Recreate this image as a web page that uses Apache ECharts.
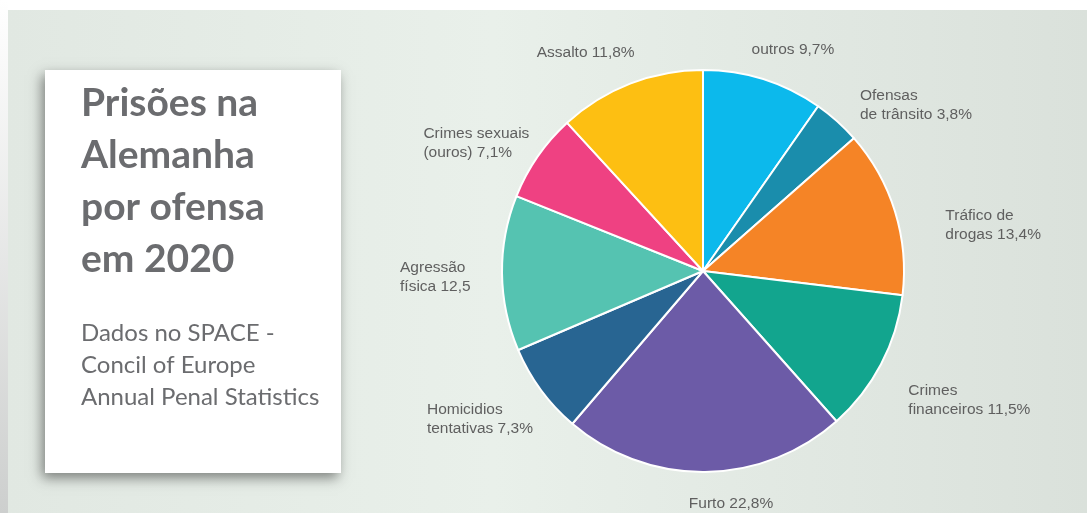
<!DOCTYPE html>
<html>
<head>
<meta charset="utf-8">
<script src="https://cdn.jsdelivr.net/npm/echarts@6/dist/echarts.min.js"></script>
<style>
html,body{margin:0;padding:0;background:#fff;}
#c{width:1087px;height:513px;}
</style>
</head>
<body>
<div id="c"></div>
<script>
// ---- data ----
const categories = [
  'outros 9,7%',
  'Ofensas\nde trânsito 3,8%',
  'Tráfico de\ndrogas 13,4%',
  'Crimes\nfinanceiros 11,5%',
  'Furto 22,8%',
  'Homicidios\ntentativas 7,3%',
  'Agressão\nfísica 12,5',
  'Crimes sexuais\n(ouros) 7,1%',
  'Assalto 11,8%'
];
const values = [9.7, 3.8, 13.4, 11.5, 22.8, 7.3, 12.5, 7.1, 11.8];
const titleLines = ['Prisões na', 'Alemanha', 'por ofensa', 'em 2020'];
const subtitleLines = ['Dados no SPACE -', 'Concil of Europe', 'Annual Penal Statistics'];

// ---- styles ----
const colors = ['#0cb9ec', '#1a8dac', '#f58426', '#12a58e', '#6c5ba7', '#286592', '#55c3b1', '#ef4182', '#fdbf12'];
const labelAlign = ['center', 'left', 'left', 'left', 'center', 'left', 'left', 'left', 'center'];
const labelShift = [[10, -15], [-2, -5], [21, 18], [-1, 29], [11, 17], [-87, 20], [-72, 4], [-87, -5], [-24, -17]];

const chart = echarts.init(document.getElementById('c'), null, {renderer: 'canvas'});

const option = {
  backgroundColor: '#ffffff',
  animation: false,
  graphic: [
    {
      type: 'rect', z: -10, silent: true,
      shape: {x: 0, y: 0, width: 8, height: 513},
      style: {fill: new echarts.graphic.LinearGradient(0, 0, 0, 1, [
        {offset: 0, color: '#ffffff'}, {offset: 1, color: '#cdcfce'}])}
    },
    {
      type: 'rect', z: -10, silent: true,
      shape: {x: 8, y: 10, width: 1079, height: 503},
      style: {fill: new echarts.graphic.LinearGradient(0, 0, 1, 0, [
        {offset: 0, color: '#e1e8e2'},
        {offset: 0.45, color: '#e9f0ea'},
        {offset: 1, color: '#dae1db'}])}
    },
    {
      type: 'rect', z: -5, silent: true,
      shape: {x: 45, y: 70, width: 296, height: 403},
      style: {fill: '#ffffff', shadowBlur: 12, shadowOffsetX: -3, shadowOffsetY: 5, shadowColor: 'rgba(0,0,0,0.45)'}
    },
    {
      type: 'text', z: 5, silent: true,
      left: 81, top: 77,
      style: {
        text: titleLines.join('\n'),
        font: 'bold 39px Lato',
        lineHeight: 52,
        fill: '#6b6c6f'
      }
    },
    {
      type: 'text', z: 5, silent: true,
      left: 81, top: 317,
      style: {
        text: subtitleLines.join('\n'),
        font: '24px Lato',
        lineHeight: 32,
        fill: '#6b6c6f'
      }
    }
  ],
  series: [{
    type: 'pie',
    center: [703, 271],
    radius: 201,
    startAngle: 90,
    clockwise: true,
    avoidLabelOverlap: false,
    silent: true,
    itemStyle: {borderColor: '#ffffff', borderWidth: 2},
    label: {
      show: true,
      position: 'outside',
      formatter: '{b}',
      color: '#5f5f5f',
      fontFamily: 'Liberation Sans, Arial, sans-serif',
      fontSize: 15.5,
      lineHeight: 19,
      distanceToLabelLine: 5
    },
    labelLine: {show: false, length: 15, length2: 10},
    labelLayout: function (p) {
      const s = labelShift[p.dataIndex];
      return {align: labelAlign[p.dataIndex], verticalAlign: 'middle', dx: s[0], dy: s[1]};
    },
    data: categories.map((name, i) => ({name: name, value: values[i], itemStyle: {color: colors[i]}}))
  }]
};
chart.setOption(option);
</script>
</body>
</html>
